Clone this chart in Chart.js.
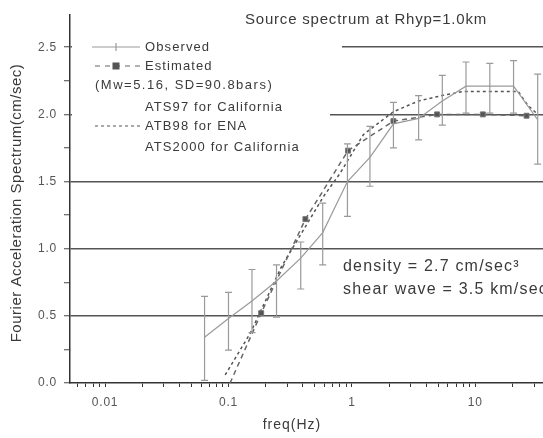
<!DOCTYPE html>
<html>
<head>
<meta charset="utf-8">
<script src="https://cdn.jsdelivr.net/npm/chart.js@4.4.1/dist/chart.umd.min.js"></script>
<style>
  body { margin: 0; background: #fff; overflow: hidden; }
  canvas { display: block; }
</style>
</head>
<body>
<canvas id="spectrum" width="549" height="438"></canvas>
<script>
// observed spectrum with error bars
const freqObs = [0.064, 0.1, 0.155, 0.245, 0.385, 0.58, 0.92, 1.4, 2.17, 3.47, 5.4, 8.4, 13.1, 20.4, 32]
const specObs = [0.34, 0.48, 0.61, 0.76, 0.93, 1.12, 1.5, 1.68, 1.93, 1.97, 2.1, 2.21, 2.21, 2.21, 1.96]
const obsLow = [0.02, 0.245, 0.375, 0.49, 0.7, 0.88, 1.24, 1.465, 1.75, 1.81, 1.92, 2.01, 2.01, 2.01, 1.63]
const obsHigh = [0.645, 0.675, 0.845, 0.88, 1.05, 1.34, 1.78, 1.91, 2.09, 2.14, 2.29, 2.39, 2.38, 2.4, 2.3]

// estimated model
const freqEst = [0.103, 0.184, 0.42, 0.93, 2.17, 4.9, 11.5, 26]
const specEst = [0.0, 0.52, 1.22, 1.73, 1.95, 2.0, 2.0, 1.99]

// ATB98 for ENA
const freqATB = [0.094, 0.15, 0.27, 0.59, 0.8, 1.24, 2.17, 3.47, 5.35, 7.9, 22.3, 26.5, 32]
const specATB = [0.06, 0.37, 0.87, 1.39, 1.56, 1.85, 2.02, 2.1, 2.14, 2.17, 2.17, 2.07, 2.0]

const legendLabels = ["Observed", "Estimated", "(Mw=5.16, SD=90.8bars)", "ATS97 for California", "ATB98 for ENA", "ATS2000 for California"]
const titleText = "Source spectrum at Rhyp=1.0km"
const noteLines = ["density = 2.7 cm/sec³", "shear wave = 3.5 km/sec"]
const xTitle = "freq(Hz)"
const yTitle = "Fourier Acceleration Spectrum(cm/sec)"

const toXY = (xs, ys) => xs.map((x, i) => ({ x: x, y: ys[i] }))

const errorBars = {
    id: "errorBars",
    afterDatasetsDraw(chart) {
        const { ctx, scales } = chart
        ctx.save()
        ctx.strokeStyle = "#9a9a9a"
        ctx.lineWidth = 1.2
        freqObs.forEach((f, i) => {
            const x = scales.x.getPixelForValue(f)
            const y1 = scales.y.getPixelForValue(obsLow[i])
            const y2 = scales.y.getPixelForValue(obsHigh[i])
            ctx.beginPath()
            ctx.moveTo(x, y1); ctx.lineTo(x, y2)
            ctx.moveTo(x - 3.5, y1); ctx.lineTo(x + 3.5, y1)
            ctx.moveTo(x - 3.5, y2); ctx.lineTo(x + 3.5, y2)
            ctx.stroke()
        })
        ctx.restore()
    }
}

const textLayer = {
    id: "textLayer",
    beforeDraw(chart) {
        chart.ctx.letterSpacing = "0.8px"
    },
    beforeDatasetsDraw(chart) {
        // white legend box hides the grid lines behind it
        const ctx = chart.ctx
        ctx.save()
        ctx.fillStyle = "#fff"
        ctx.fillRect(72, 32, 270, 60)
        ctx.fillRect(72, 92, 258, 70)
        ctx.restore()
    },
    afterDraw(chart) {
        const ctx = chart.ctx
        ctx.save()
        ctx.fillStyle = "#3a3a3a"
        ctx.textBaseline = "middle"

        ctx.letterSpacing = "0.8px"
        ctx.font = "15px 'Liberation Sans', Arial, sans-serif"
        ctx.textAlign = "center"
        ctx.fillText(titleText, 366, 20)
        ctx.letterSpacing = "1px"
        ctx.font = "14px 'Liberation Sans', Arial, sans-serif"
        ctx.fillText(xTitle, 292, 425)

        ctx.save()
        ctx.translate(17, 203)
        ctx.rotate(-Math.PI / 2)
        ctx.font = "15px 'Liberation Sans', Arial, sans-serif"
        ctx.letterSpacing = "0.5px"
        ctx.fillText(yTitle, 0, 0)
        ctx.restore()

        ctx.textAlign = "left"
        ctx.font = "16px 'Liberation Sans', Arial, sans-serif"
        ctx.letterSpacing = "1.2px"
        ctx.fillText(noteLines[0], 343, 267)
        ctx.fillText(noteLines[1], 343, 290)

        // legend
        const rows = [47, 66, 85, 107, 126, 147]
        ctx.font = "13px 'Liberation Sans', Arial, sans-serif"
        ctx.letterSpacing = "1.1px"
        legendLabels.forEach((lab, i) => {
            if (i == 2) {
                ctx.letterSpacing = "1.5px"
                ctx.fillText(lab, 95, rows[i])
                ctx.letterSpacing = "1.1px"
            } else {
                ctx.fillText(lab, 145, rows[i])
            }
        })
        ctx.lineWidth = 1.2
        // observed sample
        ctx.strokeStyle = "#9a9a9a"
        ctx.beginPath()
        ctx.moveTo(92, rows[0]); ctx.lineTo(140, rows[0])
        ctx.moveTo(116, rows[0] - 4); ctx.lineTo(116, rows[0] + 4)
        ctx.stroke()
        // estimated sample
        ctx.strokeStyle = "#666"
        ctx.setLineDash([5, 5])
        ctx.beginPath()
        ctx.moveTo(95, rows[1]); ctx.lineTo(140, rows[1])
        ctx.stroke()
        ctx.fillStyle = "#555"
        ctx.fillRect(112.5, rows[1] - 3.5, 7, 7)
        // ATB98 sample
        ctx.strokeStyle = "#555"
        ctx.setLineDash([3, 3])
        ctx.beginPath()
        ctx.moveTo(95, rows[4]); ctx.lineTo(140, rows[4])
        ctx.stroke()
        ctx.restore()
    }
}

const ctx = document.querySelector("#spectrum").getContext("2d")

new Chart(ctx, {
    type: "line",
    data: {
        datasets: [{
            label: "Observed",
            data: toXY(freqObs, specObs),
            borderColor: "#9a9a9a",
            borderWidth: 1.2,
            pointRadius: 0
        }, {
            label: "Estimated",
            data: toXY(freqEst, specEst),
            borderColor: "#666",
            borderWidth: 1.5,
            borderDash: [5, 4],
            pointStyle: "rect",
            pointRadius: [0, 3.5, 3.5, 3.5, 3.5, 3.5, 3.5, 3.5],
            pointBackgroundColor: "#555",
            pointBorderColor: "#777",
            pointBorderWidth: 1
        }, {
            label: "ATB98 for ENA",
            data: toXY(freqATB, specATB),
            borderColor: "#555",
            borderWidth: 1.5,
            borderDash: [3, 3],
            pointRadius: 0
        }]
    },
    options: {
        responsive: false,
        animation: false,
        layout: { padding: { top: 15, left: 0, right: 0, bottom: 0 } },
        plugins: {
            legend: { display: false },
            tooltip: { enabled: false }
        },
        scales: {
            x: {
                type: "logarithmic",
                min: 0.0052,
                max: 36,
                afterBuildTicks: (s) => {
                    s.ticks = s.ticks.filter(t => {
                        const m = t.value / Math.pow(10, Math.floor(Math.log10(t.value) + 1e-9))
                        return Math.abs(m - Math.round(m)) < 1e-6
                    })
                },
                afterFit: (s) => { s.height = 55 },
                ticks: {
                    autoSkip: false,
                    maxRotation: 0,
                    padding: 8,
                    color: "#555",
                    font: { family: "'Liberation Sans', Arial, sans-serif", size: 12 },
                    callback: (v) => {
                        const l = Math.log10(v)
                        if (Math.abs(l - Math.round(l)) > 1e-6) return ""
                        return v >= 1 ? String(Math.round(v)) : String(Number(v.toPrecision(1)))
                    }
                },
                grid: { drawOnChartArea: false, tickLength: 4, color: "#333", lineWidth: 1 },
                border: { color: "#333", width: 1.5 }
            },
            y: {
                min: 0,
                max: 2.74,
                afterBuildTicks: (s) => {
                    s.ticks = s.ticks.filter(t => Math.abs(t.value * 4 - Math.round(t.value * 4)) < 1e-6)
                },
                afterFit: (s) => { s.width = 70 },
                ticks: {
                    stepSize: 0.25,
                    padding: 7,
                    color: "#555",
                    font: { family: "'Liberation Sans', Arial, sans-serif", size: 12 },
                    callback: (v) => (Math.abs(v * 2 - Math.round(v * 2)) < 1e-6 ? v.toFixed(1) : "")
                },
                grid: {
                    tickLength: 6,
                    lineWidth: 1.5,
                    color: (c) => {
                        const v = c.tick ? c.tick.value : 0
                        return v > 0 && Math.abs(v * 2 - Math.round(v * 2)) < 1e-6 ? "#555" : "rgba(0,0,0,0)"
                    },
                    tickColor: "#444",
                    tickWidth: 1
                },
                border: { color: "#333", width: 1.5 }
            }
        }
    },
    plugins: [errorBars, textLayer]
})
</script>
</body>
</html>
